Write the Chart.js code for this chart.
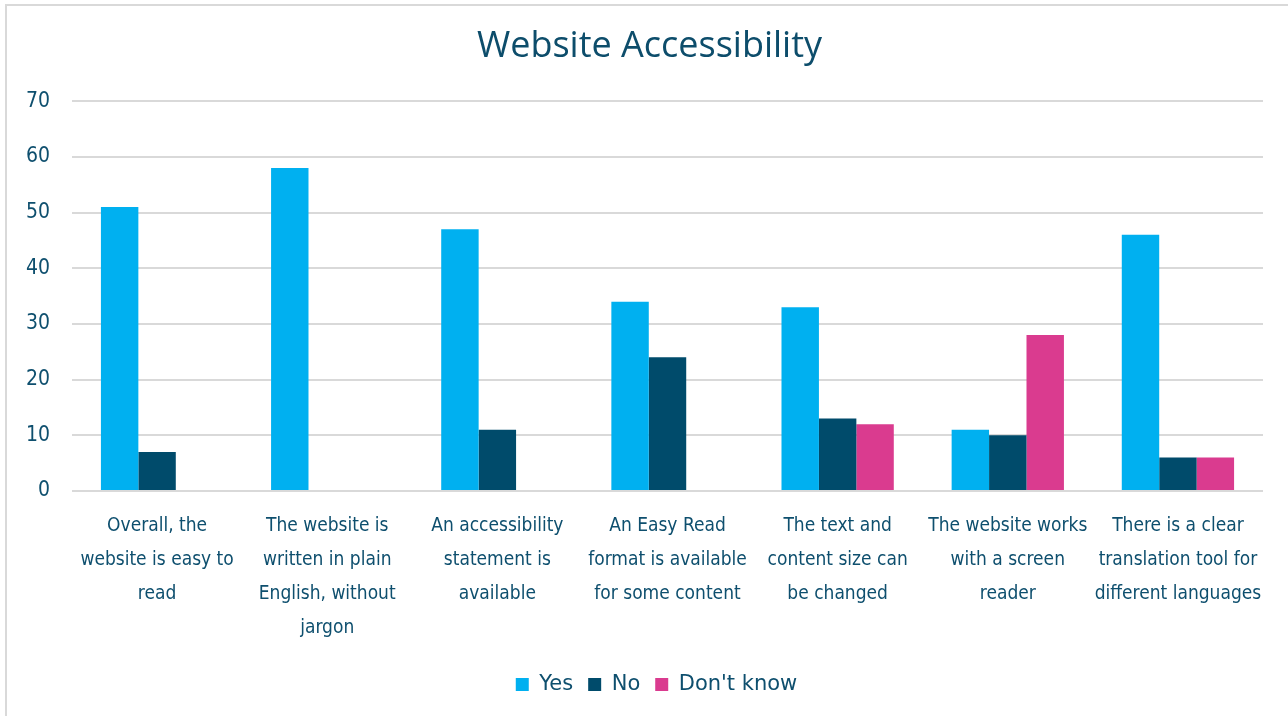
<!DOCTYPE html>
<html>
<head>
<meta charset="utf-8">
<script src="https://cdn.jsdelivr.net/npm/chart.js@4/dist/chart.umd.min.js"></script>
<style>
  html, body { margin: 0; padding: 0; background: #fff; }
  #frame { position: absolute; left: 5px; top: 4px; width: 1300px; height: 720px; border: 2px solid #d9d9d9; box-sizing: border-box; }
  #wrap { position: absolute; left: 0; top: 0; width: 1288px; height: 716px; }
</style>
</head>
<body>
<div id="frame"></div>
<div id="wrap"><canvas id="c" width="1288" height="716"></canvas></div>
<script>
const categories = [
  ["Overall, the", "website is easy to", "read"],
  ["The website is", "written in plain", "English, without", "jargon"],
  ["An accessibility", "statement is", "available"],
  ["An Easy Read", "format is available", "for some content"],
  ["The text and", "content size can", "be changed"],
  ["The website works", "with a screen", "reader"],
  ["There is a clear", "translation tool for", "different languages"]
];
const yesValues = [51, 58, 47, 34, 33, 11, 46];
const noValues = [7, 0, 11, 24, 13, 10, 6];
const dontKnowValues = [0, 0, 0, 0, 12, 28, 6];
const seriesNames = ["Yes", "No", "Don't know"];
const yTicks = [0, 10, 20, 30, 40, 50, 60, 70];

const textColor = "#0E4F6E";
const labelFont = "'DejaVu Sans Condensed', 'DejaVu Sans', sans-serif";

const shiftBlocks = {
  id: "shiftBlocks",
  afterLayout(chart) {
    if (chart.titleBlock) { chart.titleBlock.left += 18; chart.titleBlock.right += 18; }
    if (chart.legend) { chart.legend.left += 25; chart.legend.right += 25; }
  }
};

new Chart(document.getElementById("c"), {
  type: "bar",
  data: {
    labels: categories,
    datasets: [
      { label: seriesNames[0], data: yesValues, backgroundColor: "#00B0F0" },
      { label: seriesNames[1], data: noValues, backgroundColor: "#004B6B" },
      { label: seriesNames[2], data: dontKnowValues, backgroundColor: "#DA3B8F" }
    ]
  },
  plugins: [shiftBlocks],
  options: {
    responsive: false,
    animation: false,
    layout: { padding: { left: 0, right: 25, top: 0, bottom: 11 } },
    datasets: { bar: { barPercentage: 1, categoryPercentage: 0.66, borderWidth: 0 } },
    plugins: {
      title: {
        display: true,
        text: "Website Accessibility",
        color: "#0D4D6B",
        font: { family: "'Open Sans', sans-serif", size: 36, weight: "normal" },
        padding: { top: 25, bottom: 33 }
      },
      legend: {
        position: "bottom",
        labels: {
          color: textColor,
          font: { family: "'DejaVu Sans', sans-serif", size: 21 },
          boxWidth: 13, boxHeight: 13,
          padding: 15
        }
      },
      tooltip: { enabled: false }
    },
    scales: {
      x: {
        grid: { display: false },
        border: { display: false },
        ticks: {
          color: textColor,
          font: { family: labelFont, size: 19, lineHeight: 1.79 },
          padding: 10,
          maxRotation: 0,
          autoSkip: false
        },
        afterFit: s => { s.height = 168; }
      },
      y: {
        min: 0, max: 70,
        afterBuildTicks: s => { s.ticks = yTicks.map(v => ({ value: v })); },
        grid: { color: "#d9d9d9", lineWidth: 2, drawTicks: false },
        border: { display: false },
        ticks: {
          color: textColor,
          font: { family: labelFont, size: 21 },
          padding: 22
        },
        afterFit: s => { s.width = 72; }
      }
    }
  }
});
</script>
</body>
</html>
